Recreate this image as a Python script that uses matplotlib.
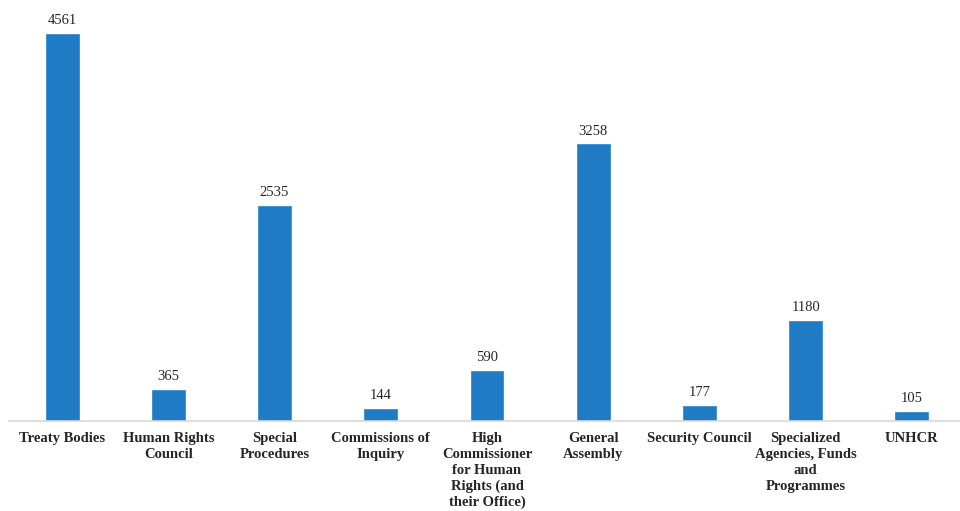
import matplotlib
matplotlib.use("Agg")
import matplotlib.pyplot as plt

plt.rcParams.update({"font.family": ["Liberation Serif", "DejaVu Serif"]})

categories = [
    "Treaty Bodies",
    "Human Rights\nCouncil",
    "Special\nProcedures",
    "Commissions of\nInquiry",
    "High\nCommissioner\nfor Human\nRights (and\ntheir Office)",
    "General\nAssembly",
    "Security Council",
    "Specialized\nAgencies, Funds\nand\nProgrammes",
    "UNHCR",
]
values = [4561, 365, 2535, 144, 590, 3258, 177, 1180, 105]

fig = plt.figure(figsize=(9.6, 5.11), dpi=100)
ax = fig.add_axes([9 / 960, 90 / 511, 956 / 960, 421 / 511])

x = range(len(values))
ax.bar(x, values, width=0.31, color="#1f7bc4", edgecolor="#3a8fd1", linewidth=0.6)
for xi, v in zip(x, values):
    ax.annotate(str(v), (xi, v), xytext=(0, 5), textcoords="offset points",
                ha="center", va="bottom", fontsize=10.5, color="#262626")

ax.set_xlim(-0.5, len(values) - 0.5)
ax.set_ylim(0, 4960)
ax.set_xticks(list(x))
ax.set_xticklabels(categories, fontsize=10.5, fontweight="bold", color="#262626",
                   linespacing=1.28)
ax.tick_params(axis="x", length=0, pad=8)
ax.set_yticks([])
for s in ["top", "right", "left"]:
    ax.spines[s].set_visible(False)
ax.spines["bottom"].set_color("#d9d9d9")
ax.spines["bottom"].set_linewidth(1.2)

fig.savefig("out.png", dpi=100)
